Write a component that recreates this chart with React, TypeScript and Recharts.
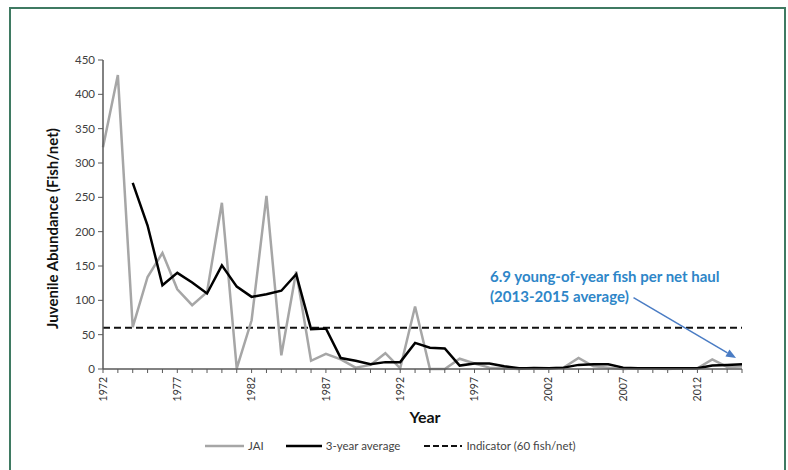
import React from "react"
import {
  LineChart,
  Line,
  XAxis,
  YAxis,
  ReferenceLine,
  Label,
} from "recharts"

// Years on the x axis
const years = [
  1972, 1973, 1974, 1975, 1976, 1977, 1978, 1979, 1980, 1981, 1982, 1983,
  1984, 1985, 1986, 1987, 1988, 1989, 1990, 1991, 1992, 1993, 1994, 1995,
  1996, 1997, 1998, 1999, 2000, 2001, 2002, 2003, 2004, 2005, 2006, 2007,
  2008, 2009, 2010, 2011, 2012, 2013, 2014, 2015,
]

// Juvenile abundance index (fish/net)
const jai = [
  323, 428, 61, 134, 169, 116, 93, 112, 242, 1, 71, 252, 20, 142, 12, 22, 14,
  2, 6, 23, 1, 91, 0, 0, 15, 8, 2, 1, 0, 2, 1, 2, 16, 4, 2, 0, 1, 1, 0, 1, 1,
  14, 3, 3.7,
]

// 3-year running average (starts 1974)
const threeYear = [
  null, null, 271, 209, 122, 140, 126, 110, 151, 120, 105, 109, 114, 138, 58,
  59, 16, 12, 7, 10, 10, 38, 31, 30, 5, 8, 8, 4, 1, 1, 1, 2, 6, 7, 7, 2, 1, 1,
  1, 1, 1, 5, 6, 6.9,
]

const yTicks = [0, 50, 100, 150, 200, 250, 300, 350, 400, 450]
const indicator = 60

// arrow from the note to the 2013-2015 average
const arrowFrom = { x: 2007.7, y: 104 }
const arrowTo = { x: 2014.6, y: 16 }

const data = years.map((year, i) => ({
  year,
  jai: jai[i],
  avg: threeYear[i],
}))

const FONT = "Lato, 'Open Sans', sans-serif"

const YearTick = ({ x, y, payload }: any) => {
  if ((payload.value - 1972) % 5 !== 0) return null
  return (
    <text
      x={x}
      y={y}
      transform={`rotate(-90 ${x} ${y})`}
      textAnchor="end"
      dy="0.35em"
      fontSize={10.5}
      fontFamily={FONT}
      fill="#333"
    >
      {payload.value}
    </text>
  )
}

const Arrow = (props: any) => {
  const { x1, y1, x2, y2 } = props
  const ang = Math.atan2(y2 - y1, x2 - x1)
  const len = 10
  const w = 4
  const bx = x2 - len * Math.cos(ang)
  const by = y2 - len * Math.sin(ang)
  const px = -Math.sin(ang) * w
  const py = Math.cos(ang) * w
  return (
    <g>
      <line x1={x1} y1={y1} x2={bx} y2={by} stroke="#4a7cc4" strokeWidth={1.5} />
      <polygon
        points={`${x2},${y2} ${bx + px},${by + py} ${bx - px},${by - py}`}
        fill="#4a7cc4"
      />
    </g>
  )
}

const LegendLine = ({ color, dashed, width }: { color: string; dashed?: boolean; width: number }) => (
  <svg width={width} height={6} style={{ marginRight: 4 }}>
    <line
      x1={0}
      y1={3}
      x2={width}
      y2={3}
      stroke={color}
      strokeWidth={dashed ? 2 : 2.5}
      strokeDasharray={dashed ? "6 3" : undefined}
    />
  </svg>
)

export default function App() {
  return (
    <div
      style={{
        position: "absolute",
        left: 0,
        top: 0,
        width: 788,
        height: 470,
        background: "#fff",
        overflow: "hidden",
        fontFamily: FONT,
      }}
    >
      <div
        style={{
          position: "absolute",
          left: 9,
          top: 7,
          width: 773,
          height: 480,
          border: "2px solid #3f7a62",
        }}
      />
      <LineChart
        width={788}
        height={470}
        data={data}
        margin={{ top: 60, right: 46, left: 43, bottom: 61 }}
      >
        <XAxis
          dataKey="year"
          type="number"
          domain={[1972, 2015]}
          ticks={years}
          interval={0}
          height={40}
          tick={<YearTick />}
          tickSize={4}
          tickMargin={4}
          axisLine={{ stroke: "#595959", strokeWidth: 1.5 }}
          tickLine={{ stroke: "#595959" }}
        />
        <YAxis
          domain={[0, 450]}
          ticks={yTicks}
          width={60}
          tickSize={5}
          tickMargin={3}
          interval={0}
          tick={{ fontSize: 11.5, fill: "#404040", fontFamily: FONT }}
          axisLine={{ stroke: "#595959", strokeWidth: 1.5 }}
          tickLine={{ stroke: "#595959" }}
        >
          <Label
            content={({ viewBox }: any) => {
              const cx = viewBox.x + 9
              const cy = viewBox.y + viewBox.height / 2 + 14
              return (
                <text
                  x={cx}
                  y={cy}
                  transform={`rotate(-90 ${cx} ${cy})`}
                  textAnchor="middle"
                  dominantBaseline="central"
                  fontSize={15}
                  fontWeight={700}
                  fontFamily={FONT}
                  fill="#111"
                >
                  Juvenile Abundance (Fish/net)
                </text>
              )
            }}
          />
        </YAxis>
        <ReferenceLine
          y={indicator}
          stroke="#111"
          strokeWidth={2}
          strokeDasharray="7 4"
        />
        <Line
          dataKey="jai"
          stroke="#a6a6a6"
          strokeWidth={2.5}
          dot={false}
          isAnimationActive={false}
        />
        <Line
          dataKey="avg"
          stroke="#000"
          strokeWidth={2.5}
          dot={false}
          connectNulls={false}
          isAnimationActive={false}
        />
        <ReferenceLine
          segment={[arrowFrom, arrowTo]}
          shape={<Arrow />}
          ifOverflow="visible"
        />
      </LineChart>

      {/* annotation */}
      <div
        style={{
          position: "absolute",
          left: 490,
          top: 266,
          color: "#2e86c8",
          fontWeight: 700,
          fontSize: 15,
          lineHeight: "20px",
        }}
      >
        6.9 young-of-year fish per net haul
        <br />
        (2013-2015 average)
      </div>

      {/* x axis title */}
      <div
        style={{
          position: "absolute",
          left: 0,
          width: 850,
          top: 407,
          textAlign: "center",
          fontWeight: 700,
          fontSize: 16,
          color: "#111",
        }}
      >
        Year
      </div>

      {/* legend */}
      <div
        style={{
          position: "absolute",
          left: 205,
          top: 439,
          display: "flex",
          alignItems: "center",
          fontSize: 11.5,
          color: "#444",
        }}
      >
        <LegendLine color="#a6a6a6" width={39} />
        <span style={{ marginRight: 22 }}>JAI</span>
        <LegendLine color="#000" width={36} />
        <span style={{ marginRight: 24 }}>3-year average</span>
        <LegendLine color="#111" dashed width={38} />
        <span>Indicator (60 fish/net)</span>
      </div>
    </div>
  )
}
